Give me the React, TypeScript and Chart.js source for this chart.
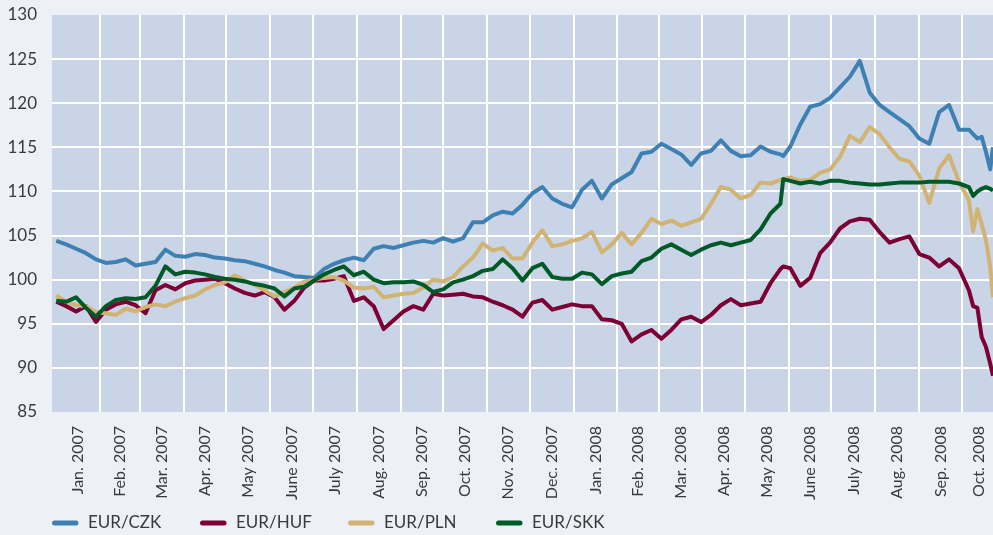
import React, { useEffect, useRef } from "react";
import { Chart, registerables } from "chart.js";

Chart.register(...registerables);

// Day offsets from 1 Jan 2007 for each observation
const DAYS = [
  0, 7, 14, 21, 28, 35, 42, 49, 56, 63,
  70, 77, 84, 91, 98, 105, 112, 119, 126, 133,
  140, 147, 154, 161, 168, 175, 182, 189, 196, 203,
  210, 217, 224, 231, 238, 245, 252, 259, 266, 273,
  280, 287, 294, 301, 308, 315, 322, 329, 336, 343,
  350, 357, 364, 371, 378, 385, 392, 399, 406, 413,
  420, 427, 434, 441, 448, 455, 462, 469, 476, 483,
  490, 497, 504, 511,
  513,
  518, 525, 532, 539, 546, 553, 560, 567, 574, 581,
  588, 595, 602, 609, 616, 623, 630, 637, 644,
  647, 650, 653, 656, 659, 661,
];

const EUR_CZK = [
  104.4, 104.0, 103.5, 103.0, 102.3, 101.9, 102.0, 102.3, 101.6, 101.8,
  102.0, 103.4, 102.7, 102.6, 102.9, 102.8, 102.5, 102.4, 102.2, 102.1,
  101.8, 101.5, 101.1, 100.8, 100.4, 100.3, 100.2, 101.2, 101.8, 102.2,
  102.5, 102.2, 103.5, 103.8, 103.6, 103.9, 104.2, 104.4, 104.2, 104.7,
  104.3, 104.7, 106.5, 106.5, 107.3, 107.7, 107.5, 108.5, 109.8, 110.5,
  109.2, 108.6, 108.2, 110.2, 111.2, 109.2, 110.8, 111.5, 112.2, 114.3,
  114.5, 115.4, 114.8, 114.2, 113.0, 114.3, 114.6, 115.8, 114.6, 114.0,
  114.1, 115.1, 114.5, 114.2,
  114.0,
  115.1, 117.6, 119.6, 119.9, 120.6, 121.8, 123.0, 124.8, 121.2, 119.8,
  119.0, 118.2, 117.4, 116.0, 115.4, 119.0, 119.8, 117.0, 117.0,
  116.5, 116.0, 116.2, 114.5, 112.5, 115.0,
];

const EUR_HUF = [
  97.5, 97.0, 96.4, 97.0, 95.2, 96.6, 97.2, 97.5, 97.1, 96.2,
  98.8, 99.4, 98.9, 99.6, 99.9, 100.0, 100.1, 99.6, 99.0, 98.5,
  98.2, 98.6, 98.0, 96.6, 97.6, 99.1, 99.9, 99.9, 100.1, 100.4,
  97.6, 98.0, 97.0, 94.4, 95.4, 96.4, 97.0, 96.6, 98.4, 98.2,
  98.3, 98.4, 98.1, 98.0, 97.5, 97.1, 96.6, 95.8, 97.4, 97.7,
  96.6, 96.9, 97.2, 97.0, 97.0, 95.5, 95.4, 95.0, 93.0, 93.8,
  94.3, 93.3, 94.3, 95.5, 95.8, 95.2, 96.0, 97.1, 97.8, 97.1,
  97.3, 97.5, 99.6, 101.2,
  101.5,
  101.3, 99.3, 100.2, 103.0, 104.2, 105.8, 106.6, 106.9, 106.8, 105.4,
  104.2, 104.6, 104.9, 102.9, 102.5, 101.5, 102.3, 101.3, 98.8,
  97.0, 96.8, 93.5, 92.4, 90.5, 89.1,
];

const EUR_PLN = [
  98.2, 97.5, 97.1, 97.0, 96.3, 96.2, 96.0, 96.7, 96.4, 96.9,
  97.2, 97.0, 97.5, 97.9, 98.2, 98.9, 99.4, 99.7, 100.5, 99.9,
  99.4, 98.8, 98.1, 98.6, 99.1, 99.8, 100.0, 100.2, 100.3, 99.9,
  99.1, 99.0, 99.2, 98.0, 98.2, 98.4, 98.5, 99.1, 100.0, 99.8,
  100.3, 101.5, 102.5, 104.1, 103.3, 103.6, 102.4, 102.4, 104.2, 105.6,
  103.8, 104.0, 104.4, 104.7, 105.4, 103.1, 104.0, 105.3, 104.0, 105.3,
  106.9, 106.3, 106.7, 106.1, 106.5, 106.9, 108.6, 110.5, 110.2, 109.2,
  109.6, 111.0, 110.9, 111.3,
  111.4,
  111.6, 111.2, 111.3, 112.1, 112.5, 113.9, 116.3, 115.6, 117.3, 116.5,
  115.0, 113.7, 113.4, 111.8, 108.7, 112.6, 114.1, 111.1, 109.0,
  105.5, 108.0, 106.3, 104.5, 101.5, 98.0,
];

const EUR_SKK = [
  97.6, 97.5, 98.0, 96.8, 95.8, 97.0, 97.7, 97.9, 97.8, 98.0,
  99.3, 101.5, 100.6, 100.9, 100.8, 100.6, 100.3, 100.1, 100.0, 99.8,
  99.5, 99.3, 99.0, 98.1, 99.0, 99.2, 99.9, 100.6, 101.1, 101.5,
  100.5, 100.9, 100.0, 99.6, 99.7, 99.7, 99.8, 99.4, 98.6, 98.9,
  99.7, 100.0, 100.4, 101.0, 101.2, 102.3, 101.3, 99.9, 101.3, 101.8,
  100.3, 100.1, 100.1, 100.8, 100.6, 99.5, 100.4, 100.7, 100.9, 102.1,
  102.5, 103.5, 104.0, 103.4, 102.8, 103.4, 103.9, 104.2, 103.9, 104.2,
  104.5, 105.7, 107.5, 108.6,
  111.4,
  111.2, 110.9, 111.1, 110.9, 111.2, 111.2, 111.0, 110.9, 110.8, 110.8,
  110.9, 111.0, 111.0, 111.0, 111.1, 111.1, 111.1, 110.9, 110.5,
  109.5, 110.0, 110.3, 110.5, 110.3, 110.1,
];

// Month boundaries (gridlines) and month label positions, in days from 1 Jan 2007
const MONTH_START_DAYS = [
  31, 59, 90, 120, 151, 181, 212, 243, 273, 304, 334,
  365, 396, 425, 456, 486, 517, 547, 578, 609, 639,
];
const MONTH_LABEL_DAYS = [
  15.5, 45, 74.5, 105, 135.5, 166, 196.5, 227.5, 258, 288.5, 319, 349.5,
  380.5, 410.5, 440.5, 471, 501.5, 532, 562.5, 593.5, 624, 651,
];
const MONTH_LABELS = [
  "Jan. 2007", "Feb. 2007", "Mar. 2007", "Apr. 2007", "May 2007", "June 2007",
  "July 2007", "Aug. 2007", "Sep. 2007", "Oct. 2007", "Nov. 2007", "Dec. 2007",
  "Jan. 2008", "Feb. 2008", "Mar. 2008", "Apr. 2008", "May 2008", "June 2008",
  "July 2008", "Aug. 2008", "Sep. 2008", "Oct. 2008",
];

const SERIES_LABELS = ["EUR/CZK", "EUR/HUF", "EUR/PLN", "EUR/SKK"];
const SERIES_COLORS = ["#3f80b3", "#7d0035", "#d1b374", "#005a27"];
const SERIES_VALUES = [EUR_CZK, EUR_HUF, EUR_PLN, EUR_SKK];

const FONT = "Lato, 'Open Sans', 'DejaVu Sans', sans-serif";
const TEXT_COLOR = "#3a3a3a";
const PLOT_BG = "#c9d5e6";
const PAGE_BG = "#edf0f7";

const plotBgPlugin = {
  id: "plotBg",
  beforeDraw(chart: any) {
    const { ctx, chartArea } = chart;
    ctx.save();
    ctx.fillStyle = PLOT_BG;
    ctx.fillRect(chartArea.left, chartArea.top, chartArea.right - chartArea.left, chartArea.bottom - chartArea.top);
    ctx.restore();
  },
};

const legendPlugin = {
  id: "bottomLegend",
  afterDraw(chart: any) {
    const { ctx, chartArea } = chart;
    ctx.save();
    SERIES_LABELS.forEach((label, i) => {
      const x0 = chartArea.left + i * 148;
      const y = 523;
      ctx.strokeStyle = SERIES_COLORS[i];
      ctx.lineWidth = 5;
      ctx.lineCap = "round";
      ctx.beginPath();
      ctx.moveTo(x0 + 2.5, y);
      ctx.lineTo(x0 + 24, y);
      ctx.stroke();
      ctx.fillStyle = TEXT_COLOR;
      ctx.font = `17px ${FONT}`;
      ctx.textBaseline = "middle";
      ctx.textAlign = "left";
      ctx.fillText(label, x0 + 36, y);
    });
    ctx.restore();
  },
};

const zeroSidePadding = (scale: any) => {
  scale.paddingLeft = 0;
  scale.paddingRight = 0;
};

export default function App() {
  const canvasRef = useRef<HTMLCanvasElement | null>(null);

  useEffect(() => {
    if (!canvasRef.current) return;
    const datasets = SERIES_VALUES.map((vals, i) => ({
      label: SERIES_LABELS[i],
      data: DAYS.map((d, j) => ({ x: d, y: vals[j] })),
      borderColor: SERIES_COLORS[i],
      backgroundColor: SERIES_COLORS[i],
      borderWidth: 4,
      pointRadius: 0,
      tension: 0,
      borderJoinStyle: "round" as const,
      order: 4 - i,
    }));

    const chart = new Chart(canvasRef.current, {
      type: "line",
      data: { datasets },
      plugins: [plotBgPlugin, legendPlugin],
      options: {
        animation: false,
        responsive: true,
        maintainAspectRatio: false,
        layout: { padding: { top: 15, right: 0, bottom: 0, left: 0 } },
        plugins: {
          legend: { display: false },
          tooltip: { enabled: false },
        },
        scales: {
          x: {
            type: "linear",
            min: -3,
            max: 661,
            position: "bottom",
            afterBuildTicks: (scale: any) => {
              scale.ticks = MONTH_START_DAYS.map((v) => ({ value: v }));
            },
            afterFit: (scale: any) => {
              zeroSidePadding(scale);
              scale.height = 0;
            },
            ticks: { display: false },
            grid: { color: "#ffffff", lineWidth: 2, drawTicks: false },
            border: { display: false },
          },
          x2: {
            type: "linear",
            min: -3,
            max: 661,
            position: "bottom",
            afterBuildTicks: (scale: any) => {
              scale.ticks = MONTH_LABEL_DAYS.map((v) => ({ value: v }));
            },
            afterFit: (scale: any) => {
              zeroSidePadding(scale);
              scale.height = 123;
            },
            ticks: {
              autoSkip: false,
              minRotation: 90,
              maxRotation: 90,
              padding: 14,
              color: TEXT_COLOR,
              font: { family: FONT, size: 16 },
              callback: (_v: any, i: number) => MONTH_LABELS[i],
            },
            grid: { display: false, drawTicks: false },
            border: { display: false },
          },
          y: {
            type: "linear",
            min: 85,
            max: 130,
            afterFit: (scale: any) => {
              scale.width = 52;
              scale.paddingTop = 0;
              scale.paddingBottom = 0;
            },
            ticks: {
              stepSize: 5,
              padding: 15,
              color: TEXT_COLOR,
              font: { family: FONT, size: 17 },
            },
            grid: {
              color: (c: any) => (c.tick && (c.tick.value === 85 || c.tick.value === 130) ? "rgba(0,0,0,0)" : "#ffffff"),
              lineWidth: 2,
              drawTicks: false,
            },
            border: { display: false },
          },
        },
      },
    });
    return () => chart.destroy();
  }, []);

  return (
    <div
      style={{
        position: "absolute",
        left: 0,
        top: 0,
        width: 993,
        height: 535,
        background: PAGE_BG,
      }}
    >
      <canvas ref={canvasRef} />
    </div>
  );
}
